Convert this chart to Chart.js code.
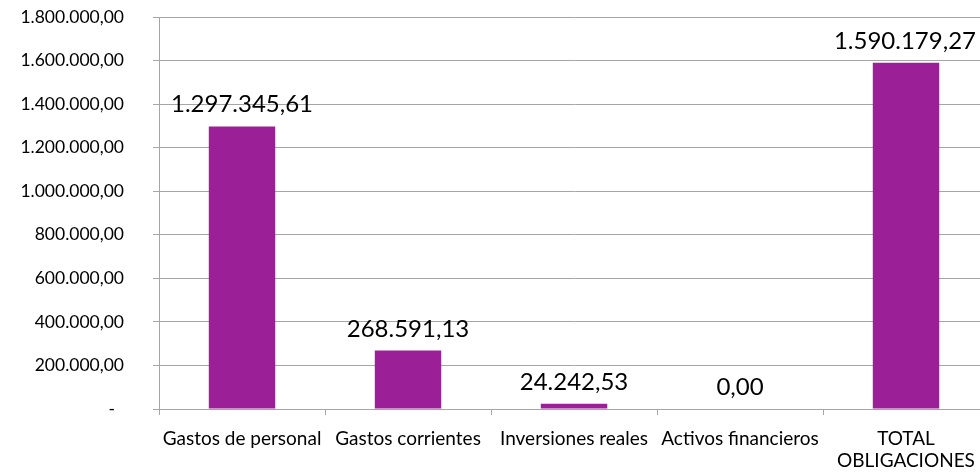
<!DOCTYPE html>
<html>
<head>
<meta charset="utf-8">
<script src="https://cdn.jsdelivr.net/npm/chart.js@4.4.0/dist/chart.umd.min.js"></script>
<style>
  html, body { margin: 0; padding: 0; background: #fff; overflow: hidden; }
  #wrap { width: 990px; height: 475px; }
</style>
</head>
<body>
<div id="wrap"><canvas id="chart"></canvas></div>
<script>
const categories = [
  'Gastos de personal',
  'Gastos corrientes',
  'Inversiones reales',
  'Activos financieros',
  ['TOTAL', 'OBLIGACIONES']
];
const obligaciones = [1297345.61, 268591.13, 24242.53, 0, 1590179.27];
const yMax = 1800000;
const yStep = 200000;

const FONT = 'Lato, "Open Sans", sans-serif';
const GRID = '#a6a6a6';

// 1234567.8 -> "1.234.567,80"
function fmt(v) {
  const parts = v.toFixed(2).split('.');
  const int = parts[0].replace(/\B(?=(\d{3})+(?!\d))/g, '.');
  return int + ',' + parts[1];
}

/* value labels above bars */
const valueLabels = {
  id: 'valueLabels',
  afterDatasetsDraw(chart) {
    const ctx = chart.ctx;
    const meta = chart.getDatasetMeta(0);
    ctx.save();
    ctx.font = '24px ' + FONT;
    ctx.fillStyle = '#000';
    ctx.textAlign = 'center';
    ctx.textBaseline = 'alphabetic';
    meta.data.forEach((bar, i) => {
      const text = fmt(obligaciones[i]);
      const w = ctx.measureText(text).width;
      let x = bar.x;
      if (x + w / 2 > 976) x = 976 - w / 2;
      ctx.fillText(text, x, bar.y - 14);
    });
    ctx.restore();
  }
};

new Chart(document.getElementById('chart'), {
  type: 'bar',
  data: {
    labels: categories,
    datasets: [{
      data: obligaciones,
      backgroundColor: '#9b1f96',
      borderWidth: 0,
      categoryPercentage: 1,
      barPercentage: 0.4
    }]
  },
  options: {
    responsive: true,
    maintainAspectRatio: false,
    animation: false,
    layout: { padding: { top: 17, right: 1, left: 0, bottom: 0 } },
    plugins: {
      legend: { display: false },
      tooltip: { enabled: false }
    },
    scales: {
      x: {
        border: { color: GRID, width: 1 },
        grid: {
          offset: true,
          drawOnChartArea: false,
          drawTicks: true,
          tickLength: 6,
          color: GRID
        },
        ticks: {
          color: '#000',
          font: { family: FONT, size: 19 },
          padding: 12,
          maxRotation: 0,
          autoSkip: false
        },
        afterFit(scale) {
          scale.height = 66;
          scale.paddingLeft = 0;
          scale.paddingRight = 0;
        }
      },
      y: {
        min: 0,
        max: yMax,
        border: { color: GRID, width: 1 },
        grid: { color: GRID, tickLength: 6 },
        ticks: {
          stepSize: yStep,
          color: '#000',
          font: { family: FONT, size: 17.5 },
          padding: 29,
          callback: v => v === 0 ? '-  ' : fmt(v)
        },
        afterFit(scale) {
          scale.width = 159;
          scale.paddingTop = 0;
          scale.paddingBottom = 0;
        }
      }
    }
  },
  plugins: [valueLabels]
});
</script>
</body>
</html>
